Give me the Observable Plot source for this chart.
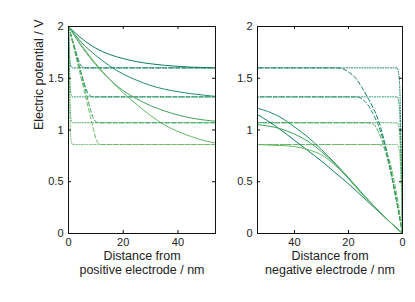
<!DOCTYPE html>
<html>
<head>
<meta charset="utf-8">
<script src="https://cdn.jsdelivr.net/npm/d3@7"></script>
<script src="https://cdn.jsdelivr.net/npm/@observablehq/plot@0.6"></script>
<style>
  html, body { margin: 0; padding: 0; background: #fff; }
  #wrap { position: relative; width: 415px; height: 302px; }
  #wrap svg { position: absolute; left: 0; top: 0; }
</style>
</head>
<body>
<div id="wrap"></div>
<script>
// ---- data ----
const xMax = 53.7;
const yTicks = [0, 0.5, 1, 1.5, 2];
const xTicks = [0, 20, 40];
const series = ["A", "B", "C", "D"];
const colors = ["#0e7c5e", "#1f8f5f", "#3ea25a", "#66b866"];

// left panel: distance from positive electrode
const leftSolidX = [0, 5, 10, 15, 20, 25, 30, 35, 40, 45, 50, 53.7];
const leftSolid = {
  A: [2.0, 1.88, 1.79, 1.73, 1.69, 1.66, 1.64, 1.625, 1.615, 1.607, 1.603, 1.60],
  B: [2.0, 1.84, 1.72, 1.62, 1.54, 1.48, 1.43, 1.395, 1.37, 1.35, 1.335, 1.325],
  C: [2.0, 1.80, 1.63, 1.49, 1.38, 1.30, 1.235, 1.185, 1.145, 1.115, 1.095, 1.085],
  D: [2.0, 1.81, 1.64, 1.49, 1.36, 1.245, 1.14, 1.05, 0.985, 0.935, 0.895, 0.875]
};
const leftDashX = [0, 1, 2, 3, 4, 5, 6, 7, 8, 9, 10, 11, 12, 53.7];
const leftDash = {
  A: [2, 1.91, 1.82, 1.73, 1.65, 1.61, 1.60, 1.60, 1.60, 1.60, 1.60, 1.60, 1.60, 1.60],
  B: [2, 1.91, 1.81, 1.71, 1.61, 1.52, 1.43, 1.36, 1.33, 1.32, 1.32, 1.32, 1.32, 1.32],
  C: [2, 1.90, 1.80, 1.70, 1.60, 1.50, 1.40, 1.30, 1.20, 1.12, 1.08, 1.07, 1.07, 1.07],
  D: [2, 1.90, 1.79, 1.68, 1.57, 1.46, 1.35, 1.24, 1.13, 1.02, 0.92, 0.87, 0.86, 0.86]
};
const leftDotX = [0, 0.3, 0.6, 1.0, 1.5, 53.7];
const leftDot = {
  A: [2, 1.78, 1.65, 1.61, 1.60, 1.60],
  B: [2, 1.65, 1.42, 1.34, 1.32, 1.32],
  C: [2, 1.55, 1.22, 1.09, 1.07, 1.07],
  D: [2, 1.45, 1.05, 0.89, 0.86, 0.86]
};

// right panel: distance from negative electrode
const rightSolidX = [0, 5, 10, 15, 20, 25, 30, 35, 40, 45, 50, 53.7];
const rightSolid = {
  A: [0, 0.12, 0.24, 0.36, 0.48, 0.59, 0.70, 0.80, 0.90, 1.00, 1.09, 1.15],
  B: [0, 0.12, 0.25, 0.39, 0.54, 0.68, 0.81, 0.93, 1.03, 1.12, 1.18, 1.21],
  C: [0, 0.12, 0.25, 0.39, 0.53, 0.67, 0.79, 0.89, 0.96, 1.01, 1.04, 1.05],
  D: [0, 0.12, 0.25, 0.38, 0.53, 0.66, 0.76, 0.81, 0.84, 0.85, 0.855, 0.86]
};
const rightDashX = [0, 1.5, 3, 5, 7, 9, 11, 13, 15, 17, 20, 22, 24, 53.7];
const rightDash = {
  A: [0, 0.22, 0.43, 0.70, 0.92, 1.10, 1.22, 1.32, 1.41, 1.49, 1.56, 1.59, 1.60, 1.60],
  B: [0, 0.22, 0.42, 0.68, 0.89, 1.05, 1.16, 1.25, 1.30, 1.32, 1.32, 1.32, 1.32, 1.32],
  C: [0, 0.22, 0.42, 0.66, 0.85, 0.99, 1.06, 1.07, 1.07, 1.07, 1.07, 1.07, 1.07, 1.07],
  D: [0, 0.28, 0.50, 0.72, 0.83, 0.86, 0.86, 0.86, 0.86, 0.86, 0.86, 0.86, 0.86, 0.86]
};
const rightDotX = [0, 0.5, 1.0, 1.5, 2.0, 53.7];
const rightDot = {
  A: [0, 0.8, 1.40, 1.56, 1.60, 1.60],
  B: [0, 0.7, 1.15, 1.29, 1.32, 1.32],
  C: [0, 0.6, 0.94, 1.05, 1.07, 1.07],
  D: [0, 0.5, 0.76, 0.84, 0.86, 0.86]
};

// ---- helpers ----
function rows(xs, table) {
  const out = [];
  series.forEach(s => table[s].forEach((v, i) => out.push({s, x: xs[i], y: v})));
  return out;
}

const W = 415, H = 302;
const marginTop = 26, marginBottom = 69;
const font = "Liberation Sans, Arial, Helvetica, sans-serif";
const frameH = H - marginTop - marginBottom;

function panel({marginLeft, marginRight, reverse, solid, dash, dot, label}) {
  const frameW = W - marginLeft - marginRight;
  const tick = 3;
  const stroke = {stroke: "s", strokeWidth: 1, curve: "monotone-x", z: "s"};
  return Plot.plot({
    width: W, height: H,
    marginLeft, marginRight, marginTop, marginBottom,
    style: {fontFamily: font, fontSize: "11px", color: "#222", background: "transparent"},
    x: {domain: [0, xMax], reverse, ticks: xTicks},
    y: {domain: [0, 2], ticks: yTicks},
    color: {domain: series, range: colors},
    marks: [
      Plot.line(dot, {x: "x", y: "y", ...stroke, strokeDasharray: "1,1.6"}),
      Plot.line(dash, {x: "x", y: "y", ...stroke, strokeDasharray: "4,2.5"}),
      Plot.line(solid, {x: "x", y: "y", ...stroke}),
      Plot.frame({stroke: "#111", strokeWidth: 1}),
      // inward ticks on all four sides
      Plot.ruleX(xTicks, {x: d => d, insetTop: frameH - tick, stroke: "#111"}),
      Plot.ruleX(xTicks, {x: d => d, insetBottom: frameH - tick, stroke: "#111"}),
      Plot.ruleY(yTicks, {y: d => d, insetRight: frameW - tick, stroke: "#111"}),
      Plot.ruleY(yTicks, {y: d => d, insetLeft: frameW - tick, stroke: "#111"}),
      Plot.axisX(xTicks, {tickSize: 0, tickPadding: 5, label: null, fontSize: 11}),
      Plot.axisY(yTicks, {tickSize: 0, tickPadding: 5, label: null, fontSize: 11,
        tickFormat: d => String(d)}),
      Plot.text(["Distance from"], {text: d => d, frameAnchor: "bottom", dy: 26, fontSize: 12.5, fill: "#222"}),
      Plot.text([label], {text: d => d, frameAnchor: "bottom", dy: 40, fontSize: 12.5, fill: "#222"})
    ]
  });
}

const left = panel({
  marginLeft: 68, marginRight: W - 215, reverse: false,
  solid: rows(leftSolidX, leftSolid), dash: rows(leftDashX, leftDash), dot: rows(leftDotX, leftDot),
  label: "positive electrode / nm"
});
const right = panel({
  marginLeft: 257, marginRight: W - 402, reverse: true,
  solid: rows(rightSolidX, rightSolid), dash: rows(rightDashX, rightDash), dot: rows(rightDotX, rightDot),
  label: "negative electrode / nm"
});
const ylab = Plot.plot({
  width: W, height: H, marginLeft: 68, marginRight: W - 215, marginTop, marginBottom,
  style: {fontFamily: font, background: "transparent"},
  x: {axis: null, domain: [0, 1]}, y: {axis: null, domain: [0, 1]},
  marks: [Plot.text(["Electric potential / V"], {text: d => d, frameAnchor: "left", dx: -30, rotate: -90, fontSize: 12.5, fill: "#222"})]
});
const wrap = document.getElementById("wrap");
wrap.append(left, right, ylab);
</script>
</body>
</html>
